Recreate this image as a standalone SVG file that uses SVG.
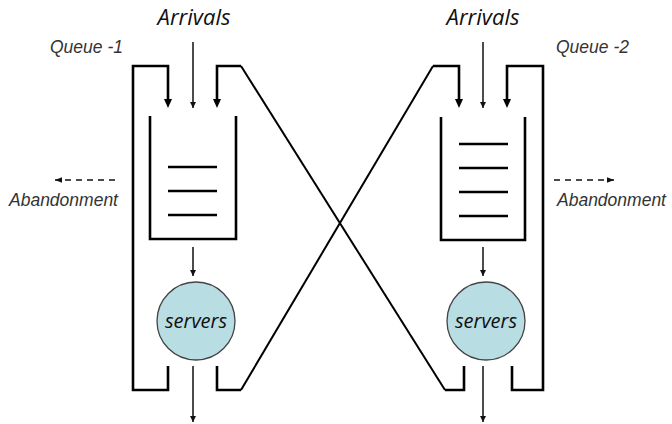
<svg xmlns="http://www.w3.org/2000/svg" width="672" height="424" viewBox="0 0 672 424">
  <style>
    .loop { fill: none; stroke: #000; stroke-width: 2.6; stroke-linejoin: miter; }
    .cross { fill: none; stroke: #000; stroke-width: 2; }
    .flow { fill: none; stroke: #111; stroke-width: 1.5; }
    .dash { fill: none; stroke: #111; stroke-width: 1.6; stroke-dasharray: 6 5; }
    .box { fill: none; stroke: #000; stroke-width: 2.6; }
    .slot { stroke: #000; stroke-width: 2.4; }
    .server { fill: #b8dde3; stroke: #444; stroke-width: 1.3; }
    .big { font-family: "Open Sans", "Noto Sans", sans-serif; font-style: italic; font-size: 22px; fill: #111; text-anchor: middle; }
    .srv { font-family: "Open Sans", "Noto Sans", sans-serif; font-style: italic; font-size: 20px; fill: #111; text-anchor: middle; }
    .small { font-family: "Liberation Sans", Arial, sans-serif; font-style: italic; font-size: 17.5px; fill: #333; }
  </style>
  <defs>
    <marker id="head" viewBox="0 0 10 10" refX="10" refY="5" markerWidth="6" markerHeight="6" markerUnits="userSpaceOnUse" orient="auto">
      <path d="M0,0 L10,5 L0,10 z" fill="#111"/>
    </marker>
    <marker id="headWide" viewBox="0 0 10 10" refX="10" refY="5" markerWidth="7" markerHeight="7" markerUnits="userSpaceOnUse" orient="auto">
      <path d="M0,1 L10,5 L0,9 z" fill="#111"/>
    </marker>
  </defs>

  <!-- labels -->
  <g id="labels">
    <text class="big" x="194" y="25">Arrivals</text>
    <text class="big" x="483" y="25">Arrivals</text>
    <text class="small" x="50" y="53">Queue -1</text>
    <text class="small" x="556" y="53">Queue -2</text>
    <text class="small" x="9" y="206">Abandonment</text>
    <text class="small" x="557" y="206">Abandonment</text>
  </g>

  <!-- queue 1 -->
  <g id="queue1">
    <path class="box" d="M150,116 V239 H236 V116"/>
    <line class="slot" x1="168" y1="167" x2="217" y2="167"/>
    <line class="slot" x1="168" y1="191" x2="217" y2="191"/>
    <line class="slot" x1="168" y1="215" x2="217" y2="215"/>
  </g>

  <!-- queue 2 -->
  <g id="queue2">
    <path class="box" d="M441,117 V240 H525 V117"/>
    <line class="slot" x1="459" y1="144" x2="508" y2="144"/>
    <line class="slot" x1="459" y1="168" x2="508" y2="168"/>
    <line class="slot" x1="459" y1="192" x2="508" y2="192"/>
    <line class="slot" x1="459" y1="216" x2="508" y2="216"/>
  </g>

  <!-- server pools -->
  <g id="servers1">
    <circle class="server" cx="196" cy="321" r="39"/>
    <text class="srv" x="196" y="328">servers</text>
  </g>
  <g id="servers2">
    <circle class="server" cx="486" cy="321" r="39"/>
    <text class="srv" x="486" y="328">servers</text>
  </g>

  <!-- connectors -->
  <g id="connectors">
    <!-- external arrivals -->
    <line class="flow" x1="193" y1="42" x2="193" y2="108" marker-end="url(#head)"/>
    <line class="flow" x1="483" y1="42" x2="483" y2="108" marker-end="url(#head)"/>

    <!-- queue 1 own feedback loop -->
    <path class="loop" d="M168,366 V390 H133 V66 H168 V100"/>
    <path d="M164,99 L172,99 L168,108 z" fill="#000"/>

    <!-- queue 2 own feedback loop -->
    <path class="loop" d="M512,366 V390 H543 V66 H507 V100"/>
    <path d="M503,99 L511,99 L507,108 z" fill="#000"/>

    <!-- cross routing: queue 2 servers to queue 1 -->
    <path class="loop" d="M217,100 V66 H241"/>
    <path d="M213,99 L221,99 L217,108 z" fill="#000"/>
    <path class="cross" d="M241,66 L445,390"/>
    <path class="loop" d="M445,390 H464 V366"/>

    <!-- cross routing: queue 1 servers to queue 2 -->
    <path class="loop" d="M217,366 V390 H241"/>
    <path class="cross" d="M241,390 L433,66"/>
    <path class="loop" d="M433,66 H459 V100"/>
    <path d="M455,99 L463,99 L459,108 z" fill="#000"/>

    <!-- queue to servers -->
    <line class="flow" x1="193" y1="247" x2="193" y2="276" marker-end="url(#head)"/>
    <line class="flow" x1="483" y1="247" x2="483" y2="276" marker-end="url(#head)"/>

    <!-- departures -->
    <line class="flow" x1="193" y1="366" x2="193" y2="422" marker-end="url(#head)"/>
    <line class="flow" x1="483" y1="366" x2="483" y2="422" marker-end="url(#head)"/>

    <!-- abandonment -->
    <line class="dash" x1="115" y1="180" x2="55" y2="180" marker-end="url(#headWide)"/>
    <line class="dash" x1="554" y1="180" x2="614" y2="180" marker-end="url(#headWide)"/>
  </g>
</svg>
